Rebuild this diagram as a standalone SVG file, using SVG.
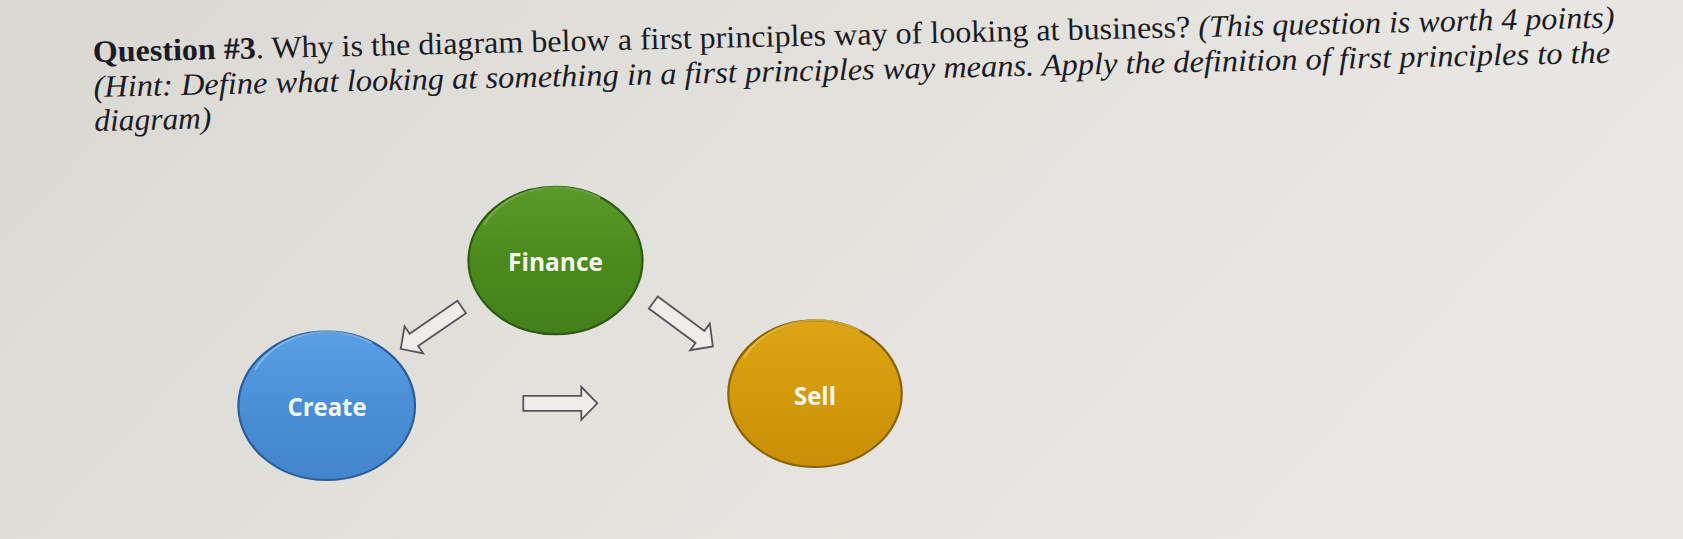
<svg xmlns="http://www.w3.org/2000/svg" width="1683" height="539" viewBox="0 0 1683 539">
  <defs>
    <linearGradient id="bg" x1="0" y1="0" x2="1" y2="0.3">
      <stop offset="0" stop-color="#d9d8d3"/>
      <stop offset="0.5" stop-color="#e2e1dc"/>
      <stop offset="1" stop-color="#e9e8e4"/>
    </linearGradient>
    <linearGradient id="gGreen" x1="0" y1="0" x2="0" y2="1">
      <stop offset="0" stop-color="#5a9a28"/>
      <stop offset="0.5" stop-color="#4c8a1e"/>
      <stop offset="1" stop-color="#44801a"/>
    </linearGradient>
    <linearGradient id="gBlue" x1="0" y1="0" x2="0" y2="1">
      <stop offset="0" stop-color="#5aa0e4"/>
      <stop offset="0.5" stop-color="#4a8fd6"/>
      <stop offset="1" stop-color="#4285cc"/>
    </linearGradient>
    <linearGradient id="gGold" x1="0" y1="0" x2="0" y2="1">
      <stop offset="0" stop-color="#dca515"/>
      <stop offset="0.5" stop-color="#d39a0c"/>
      <stop offset="1" stop-color="#c88f08"/>
    </linearGradient>
    <path id="blockArrow" d="M0,-7.5 H58 V-16.5 L74,0 L58,16.5 V7.5 H0 Z"/>
    <style>
      .q { font-family: "Liberation Serif", "Times New Roman", serif; font-size: 31px; fill: #1c1a24; }
      .b { font-weight: bold; }
      .i { font-style: italic; }
      .lbl { font-family: "Open Sans", "Noto Sans", sans-serif; font-weight: 700; font-size: 25px; fill: #f4f6ee; text-anchor: middle; }
      .arrow { fill: #eeede9; stroke: #56545a; stroke-width: 1.8; stroke-linejoin: miter; }
      .rim { stroke-width: 2.2; }
      .hl { fill: none; stroke-width: 2; opacity: 0.6; }
    </style>
  </defs>

  <rect x="0" y="0" width="1683" height="539" fill="url(#bg)"/>

  <g id="question" transform="rotate(-1.3 93 62)">
    <text class="q" x="93" y="62" textLength="1522" lengthAdjust="spacingAndGlyphs"><tspan class="b">Question #3</tspan>. Why is the diagram below a first principles way of looking at business? <tspan class="i">(This question is worth 4 points)</tspan></text>
    <text class="q i" x="93" y="97" textLength="1517" lengthAdjust="spacingAndGlyphs">(Hint: Define what looking at something in a first principles way means. Apply the definition of first principles to the</text>
    <text class="q i" x="93" y="131" textLength="117" lengthAdjust="spacingAndGlyphs">diagram)</text>
  </g>

  <g id="finance">
    <ellipse class="rim" cx="555.5" cy="260.5" rx="87" ry="73.7" fill="url(#gGreen)" stroke="#2e5a12"/>
    <path class="hl" d="M484,225 A80,66 0 0 1 600,198" stroke="#8cc060"/>
    <text class="lbl" x="555.5" y="270.7" textLength="95" lengthAdjust="spacingAndGlyphs">Finance</text>
  </g>

  <g id="create">
    <ellipse class="rim" cx="326.7" cy="405.8" rx="88.3" ry="74.2" fill="url(#gBlue)" stroke="#2b5c9c"/>
    <path class="hl" d="M255,370 A80,66 0 0 1 372,343" stroke="#9cd0f8"/>
    <text class="lbl" x="327" y="415.7" textLength="79" lengthAdjust="spacingAndGlyphs">Create</text>
  </g>

  <g id="sell">
    <ellipse class="rim" cx="815" cy="393.7" rx="86.7" ry="73.3" fill="url(#gGold)" stroke="#8a6204"/>
    <path class="hl" d="M744,358 A80,66 0 0 1 860,331" stroke="#f0cc60"/>
    <text class="lbl" x="815" y="404.7" textLength="42" lengthAdjust="spacingAndGlyphs">Sell</text>
  </g>

  <g id="connectors">
    <use href="#blockArrow" class="arrow" transform="translate(461.7 307) rotate(145.5)"/>
    <use href="#blockArrow" class="arrow" transform="translate(653.3 302.5) rotate(36.4)"/>
    <use href="#blockArrow" class="arrow" transform="translate(523.3 403.3)"/>
  </g>
</svg>
